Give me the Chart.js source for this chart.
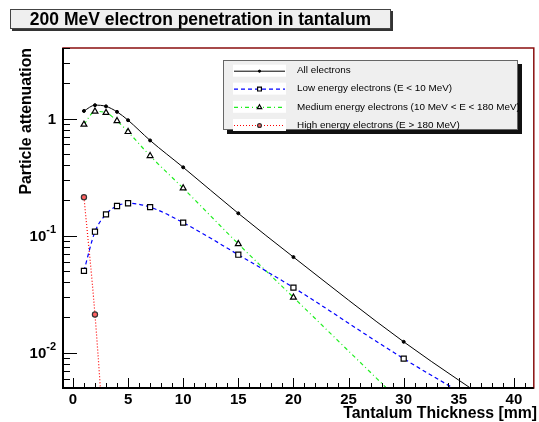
<!DOCTYPE html>
<html><head><meta charset="utf-8">
<script src="https://cdn.jsdelivr.net/npm/chart.js@4/dist/chart.umd.min.js"></script>
<style>html,body{margin:0;padding:0;background:#fff}canvas{display:block}</style>
</head><body>
<canvas id="c" width="539" height="422"></canvas>
<script>
// ---- data ----
const thickness    = [1, 2, 3, 4, 5, 7, 10, 15, 20, 30, 40];
const allElectrons = [1.16, 1.30, 1.27, 1.14, 0.967, 0.65, 0.383, 0.155, 0.0656, 0.0124, 0.0028];
const lowEnergy    = [0.050, 0.108, 0.152, 0.179, 0.189, 0.175, 0.129, 0.0687, 0.036, 0.0089, 0.0025];
const mediumEnergy = [0.889, 1.15, 1.12, 0.954, 0.77, 0.48, 0.254, 0.085, 0.0297, 0.0036];
const highEnergy   = [0.213, 0.0212, 0.001];
const seriesNames  = ['All electrons', 'Low energy electrons (E < 10 MeV)', 'Medium energy electrons (10 MeV < E < 180 MeV)', 'High energy electrons (E > 180 MeV)'];
const xTickLabels  = ['0', '5', '10', '15', '20', '25', '30', '35', '40'];
const yTickValues  = [1, 0.1, 0.01];
const yTickBases   = ['1', '10', '10'];
const yTickExps    = ['', '-1', '-2'];
const chartTitle   = '200 MeV electron penetration in tantalum';
const xTitle       = 'Tantalum Thickness [mm]';
const yTitle       = 'Particle attenuation';

const pts = arr => arr.map((v, i) => ({x: thickness[i], y: v}));
const FONT = "'Liberation Sans', Arial, Helvetica, sans-serif";

const datasets = [
  {label: seriesNames[0], data: pts(allElectrons), borderColor: '#000000', borderWidth: 1, borderDash: [],
   pointStyle: 'circle', pointRadius: 1.5, pointBackgroundColor: '#000', pointBorderColor: '#000', pointBorderWidth: 1},
  {label: seriesNames[1], data: pts(lowEnergy), borderColor: '#0000ff', borderWidth: 1.2, borderDash: [4, 3],
   pointStyle: 'rect', pointRadius: 3.6, pointBackgroundColor: '#ffffff', pointBorderColor: '#000', pointBorderWidth: 1.2},
  {label: seriesNames[2], data: pts(mediumEnergy), borderColor: '#22ee22', borderWidth: 1.2, borderDash: [4, 3, 1, 3],
   pointStyle: 'triangle', pointRadius: 3.4, pointBackgroundColor: '#ffffff', pointBorderColor: '#000', pointBorderWidth: 1.2},
  {label: seriesNames[3], data: pts(highEnergy), borderColor: '#ff0000', borderWidth: 1.2, borderDash: [1, 2],
   pointStyle: 'circle', pointRadius: 2.6, pointBackgroundColor: '#ff6060', pointBorderColor: '#333', pointBorderWidth: 1.2}
].map(d => Object.assign(d, {showLine: true, fill: false, cubicInterpolationMode: 'monotone'}));

function drawMarker(ctx, ds, x, y) {
  ctx.save();
  ctx.setLineDash([]);
  ctx.lineWidth = ds.pointBorderWidth;
  ctx.strokeStyle = ds.pointBorderColor;
  ctx.fillStyle = ds.pointBackgroundColor;
  const r = ds.pointRadius;
  ctx.beginPath();
  if (ds.pointStyle === 'rect') {
    const s = r * Math.SQRT1_2; ctx.rect(x - s, y - s, 2 * s, 2 * s);
  } else if (ds.pointStyle === 'triangle') {
    ctx.moveTo(x, y - r); ctx.lineTo(x + r * 0.866, y + r * 0.5); ctx.lineTo(x - r * 0.866, y + r * 0.5); ctx.closePath();
  } else {
    ctx.arc(x, y, r, 0, Math.PI * 2);
  }
  ctx.fill(); ctx.stroke();
  ctx.restore();
}

const decorPlugin = {
  id: 'decor',
  beforeDatasetsDraw(chart) {
    const {ctx, chartArea: a} = chart;
    ctx.save();
    ctx.fillStyle = '#ffffff';
    ctx.fillRect(a.left, a.top, a.right - a.left, a.bottom - a.top);
    ctx.restore();
  },
  afterDatasetsDraw(chart) {
    const {ctx, chartArea: a} = chart;
    const xs = chart.scales.x, ys = chart.scales.y;
    ctx.save();
    // frame
    ctx.strokeStyle = '#8a0f0f';
    ctx.lineWidth = 1.5;
    ctx.strokeRect(a.left, a.top, a.right - a.left, a.bottom - a.top);
    // axes
    ctx.strokeStyle = '#000';
    ctx.lineWidth = 2;
    ctx.beginPath();
    ctx.moveTo(a.left, a.top); ctx.lineTo(a.left, a.bottom); ctx.lineTo(a.right, a.bottom);
    ctx.stroke();
    // x ticks
    ctx.lineWidth = 1;
    ctx.beginPath();
    for (let v = 0; v <= 41; v++) {
      const px = Math.round(xs.getPixelForValue(v)) + 0.5;
      const len = v % 5 === 0 ? 10 : 5;
      ctx.moveTo(px, a.bottom); ctx.lineTo(px, a.bottom - len);
    }
    // y ticks
    for (let d = -3; d <= 0; d++) {
      for (let m = 1; m <= 9; m++) {
        const v = m * Math.pow(10, d);
        if (v < ys.min || v > ys.max) continue;
        const py = Math.round(ys.getPixelForValue(v)) + 0.5;
        const len = m === 1 ? 14 : 7;
        ctx.moveTo(a.left, py); ctx.lineTo(a.left + len, py);
      }
    }
    ctx.stroke();
    // x tick labels
    ctx.fillStyle = '#000';
    ctx.font = 'bold 15px ' + FONT;
    ctx.textAlign = 'center'; ctx.textBaseline = 'middle';
    xTickLabels.forEach(t => {
      ctx.fillText(t, xs.getPixelForValue(parseFloat(t)), a.bottom + 12);
    });
    // y tick labels
    yTickValues.forEach((v, i) => {
      const py = ys.getPixelForValue(v);
      const rx = 56;
      ctx.textBaseline = 'middle';
      ctx.textAlign = 'right';
      if (yTickExps[i]) {
        ctx.font = 'bold 11px ' + FONT;
        const ew = ctx.measureText(yTickExps[i]).width;
        ctx.fillText(yTickExps[i], rx, py - 6);
        ctx.font = 'bold 15px ' + FONT;
        ctx.fillText(yTickBases[i], rx - ew, py + 1);
      } else {
        ctx.font = 'bold 15px ' + FONT;
        ctx.fillText(yTickBases[i], rx, py + 1);
      }
    });
    // axis titles
    ctx.font = 'bold 15.8px ' + FONT;
    ctx.textAlign = 'right'; ctx.textBaseline = 'middle';
    ctx.fillText(xTitle, 537, 414);
    ctx.save();
    ctx.translate(27, 48);
    ctx.rotate(-Math.PI / 2);
    ctx.textAlign = 'right';
    ctx.fillText(yTitle, 0, 0);
    ctx.restore();

    // title box
    ctx.fillStyle = '#333';
    ctx.fillRect(12, 11, 381, 20);
    ctx.fillStyle = '#efefef';
    ctx.fillRect(10, 9, 381, 20);
    ctx.strokeStyle = '#444'; ctx.lineWidth = 1;
    ctx.strokeRect(10.5, 9.5, 380, 19);
    ctx.fillStyle = '#000';
    ctx.font = 'bold 17.5px ' + FONT;
    ctx.textAlign = 'center'; ctx.textBaseline = 'middle';
    ctx.fillText(chartTitle, 200.5, 20);

    // legend
    ctx.fillStyle = '#111';
    ctx.fillRect(227, 64, 295, 70);
    ctx.fillStyle = '#efefef';
    ctx.fillRect(223, 60, 295, 70);
    ctx.strokeStyle = '#666'; ctx.lineWidth = 1;
    ctx.strokeRect(223.5, 60.5, 294, 69);
    const rows = [70.7, 88.6, 106.8, 125];
    chart.data.datasets.forEach((ds, i) => {
      const y = rows[i];
      ctx.fillStyle = '#ffffff';
      ctx.fillRect(233, y - 6, 53, 12);
      ctx.save();
      ctx.strokeStyle = ds.borderColor; ctx.lineWidth = ds.borderWidth;
      ctx.setLineDash(ds.borderDash);
      ctx.beginPath(); ctx.moveTo(234, y + 0.5); ctx.lineTo(285, y + 0.5); ctx.stroke();
      ctx.restore();
      drawMarker(ctx, Object.assign({}, ds, {pointRadius: ds.pointRadius * 0.75}), 259.5, y + 0.5);
      ctx.fillStyle = '#000';
      ctx.font = '9.9px ' + FONT;
      ctx.textAlign = 'left'; ctx.textBaseline = 'middle';
      ctx.fillText(ds.label, 297, y);
    });
    ctx.restore();
  }
};

new Chart(document.getElementById('c'), {
  type: 'scatter',
  data: {datasets},
  options: {
    responsive: false,
    animation: false,
    devicePixelRatio: 1,
    layout: {padding: {left: 63, top: 48, right: 3.5, bottom: 34}},
    scales: {
      x: {type: 'linear', min: -0.9, max: 41.8, display: false},
      y: {type: 'logarithmic', min: 0.005, max: 4, display: false}
    },
    plugins: {legend: {display: false}, tooltip: {enabled: false}, title: {display: false}}
  },
  plugins: [decorPlugin]
});
</script>
</body></html>
